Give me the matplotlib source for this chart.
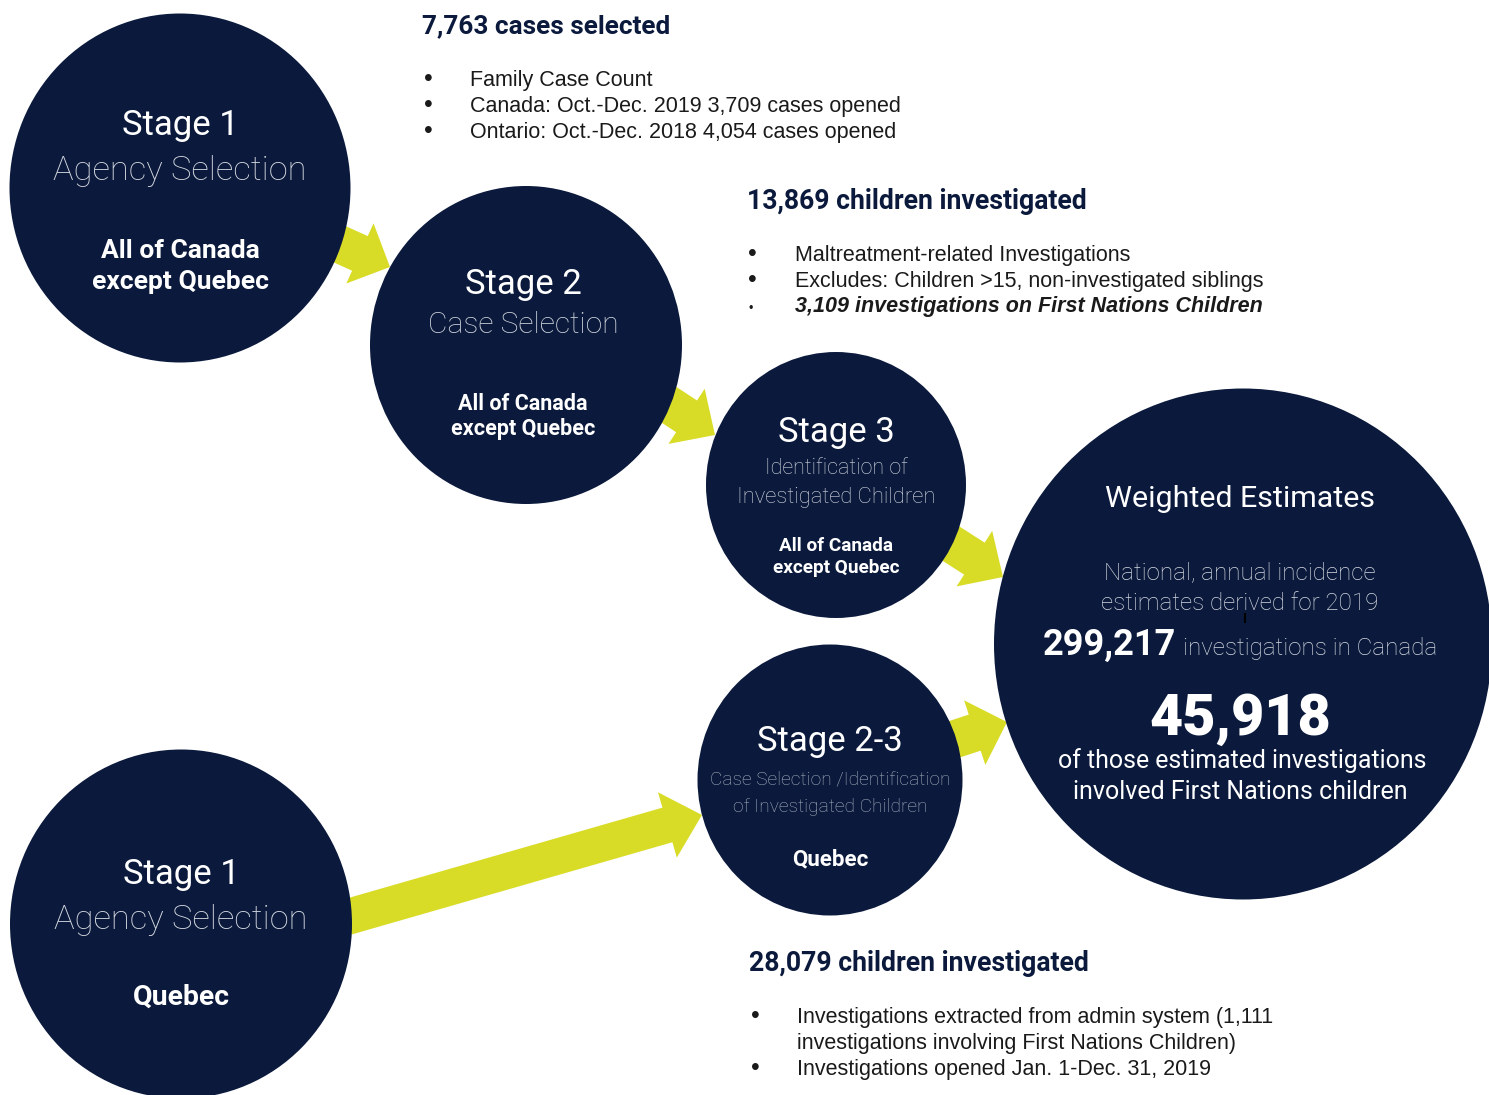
import matplotlib
matplotlib.use("Agg")
import matplotlib.pyplot as plt
from matplotlib.patches import Ellipse, FancyArrow

# ---------------- data / text content ----------------
stage_titles = ["Stage 1", "Stage 2", "Stage 3", "Stage 2-3", "Stage 1"]
stage_subtitles = [["Agency Selection"], ["Case Selection"],
                   ["Identification of", "Investigated Children"],
                   ["Case Selection /Identification", "of Investigated Children"],
                   ["Agency Selection"]]
stage_regions = [["All of Canada", "except Quebec"], ["All of Canada", "except Quebec"],
                 ["All of Canada", "except Quebec"], ["Quebec"], ["Quebec"]]

headings = ["7,763 cases selected", "13,869 children investigated", "28,079 children investigated"]
bullets_1 = ["Family Case Count", "Canada: Oct.-Dec. 2019 3,709 cases opened",
             "Ontario: Oct.-Dec. 2018 4,054 cases opened"]
bullets_2 = ["Maltreatment-related Investigations",
             "Excludes: Children >15, non-investigated siblings",
             "3,109 investigations on First Nations Children"]
bullets_3 = ["Investigations extracted from admin system (1,111",
             "investigations involving First Nations Children)",
             "Investigations opened Jan. 1-Dec. 31, 2019"]

total_investigations = "299,217"
first_nations_investigations = "45,918"

NAVY = "#0B1A3C"
YELLOW = "#D9DC27"
LIGHT = "#D4D8E0"
TXT = "#1A1A1A"

# ---------------- figure ----------------
fig = plt.figure(figsize=(14.89, 10.95), dpi=100)
ax = fig.add_axes([0, 0, 1, 1])
ax.set_xlim(0, 1489)
ax.set_ylim(1095, 0)
ax.axis("off")

# arrows (under circles)
arrow_specs = [
    ((317, 234), (390, 267), 38, 66, 33),
    ((648, 391), (715, 435), 38, 66, 34),
    ((936, 534), (1003, 577), 38, 66, 34),
    ((931, 747), (1007, 722), 38, 68, 34),
    ((330, 922), (702, 815), 36, 68, 36),
]
for (x0, y0), (x1, y1), w, hw, hl in arrow_specs:
    ax.add_patch(FancyArrow(x0, y0, x1 - x0, y1 - y0, width=w, head_width=hw,
                            head_length=hl, length_includes_head=True,
                            color=YELLOW, lw=0, zorder=1))

# circles
circles = [
    (180, 188, 341, 349),
    (526, 345, 312, 318),
    (836, 485, 260, 266),
    (830, 780, 265, 271),
    (181, 924, 342, 349),
    (1243, 644, 498, 511),
]
for cx, cy, w, h in circles:
    ax.add_patch(Ellipse((cx, cy), w, h, color=NAVY, lw=0, zorder=2))

LF = "Roboto"
BF = "Roboto"


def t(x, y, s, size, weight="normal", color="white", ha="center", family=LF, style="normal"):
    ax.text(x, y, s, fontsize=size, fontweight=weight, color=color, ha=ha,
            va="baseline", family=family, style=style, zorder=3)


# Stage 1 (top)
t(180, 135, stage_titles[0], 25)
t(180, 180, stage_subtitles[0][0], 24.8, weight="light", color=LIGHT)
t(180, 258, stage_regions[0][0], 19, weight="bold", family=BF)
t(180, 289, stage_regions[0][1], 19, weight="bold", family=BF)

# Stage 2
t(523, 294, stage_titles[1], 25)
t(523, 333, stage_subtitles[1][0], 21.6, weight="light", color=LIGHT)
t(523, 410, stage_regions[1][0], 15.5, weight="bold", family=BF)
t(523, 435, stage_regions[1][1], 15.5, weight="bold", family=BF)

# Stage 3
t(836, 442, stage_titles[2], 25)
t(836, 474, stage_subtitles[2][0], 15.5, weight="light", color=LIGHT)
t(836, 503, stage_subtitles[2][1], 15.8, weight="light", color=LIGHT)
t(836, 551, stage_regions[2][0], 13.7, weight="bold", family=BF)
t(836, 573, stage_regions[2][1], 13.7, weight="bold", family=BF)

# Stage 2-3
t(830, 751, stage_titles[3], 25)
t(830, 784, stage_subtitles[3][0], 13.8, weight="light", color="#A9B0C0")
t(830, 812, stage_subtitles[3][1], 13.8, weight="light", color="#A9B0C0")
t(830, 865, stage_regions[3][0], 16, weight="bold", family=BF)

# Stage 1 Quebec
t(181, 884, stage_titles[4], 25)
t(181, 929, stage_subtitles[4][0], 24.8, weight="light", color=LIGHT)
t(181, 1005, stage_regions[4][0], 20.4, weight="bold", family=BF)

# Weighted estimates
t(1240, 507, "Weighted Estimates", 21.9)
t(1240, 579, "National, annual incidence", 17.4, weight="light", color=LIGHT)
t(1240, 610, "estimates derived for 2019", 17.4, weight="light", color=LIGHT)
t(1176, 655, total_investigations, 26, weight="bold", ha="right", family=BF)
t(1183, 655, "investigations in Canada", 17.4, weight="light", color=LIGHT, ha="left")
t(1240, 735, first_nations_investigations, 41.4, weight="black", family=BF)
t(1242, 768, "of those estimated investigations", 17.9)
t(1240, 799, "involved First Nations children", 18)
ax.plot([1245, 1245], [614, 622], color="black", lw=1.5, zorder=4)

# Headings and bullets
BUL = "Liberation Sans"
t(422, 33, headings[0], 18.8, weight="bold", color=NAVY, ha="left", family=BF)
for i, s in enumerate(bullets_1):
    y = 86 + 26 * i
    t(428, y, "\u2022", 18, color=TXT, ha="center", family=BUL)
    t(470, y, s, 15.5, color=TXT, ha="left", family=BUL)

t(747, 209, headings[1], 19.2, weight="bold", color=NAVY, ha="left", family=BF)
for i, s in enumerate(bullets_2):
    y = 261 + 25.5 * i
    if i < 2:
        t(752, y, "\u2022", 18, color=TXT, ha="center", family=BUL)
        t(795, y, s, 15.5, color=TXT, ha="left", family=BUL)
    else:
        t(751, y, "\u2022", 9, color=TXT, ha="center", family=BUL)
        t(795, y, s, 15.5, color=TXT, ha="left", family=BUL, weight="bold", style="italic")

t(749, 971, headings[2], 19.2, weight="bold", color=NAVY, ha="left", family=BF)
for i, s in enumerate(bullets_3):
    y = 1023 + 26 * i
    if i != 1:
        t(755, y, "\u2022", 18, color=TXT, ha="center", family=BUL)
    t(797, y, s, 15.5, color=TXT, ha="left", family=BUL)

fig.savefig("out.png", dpi=100, facecolor="white")
